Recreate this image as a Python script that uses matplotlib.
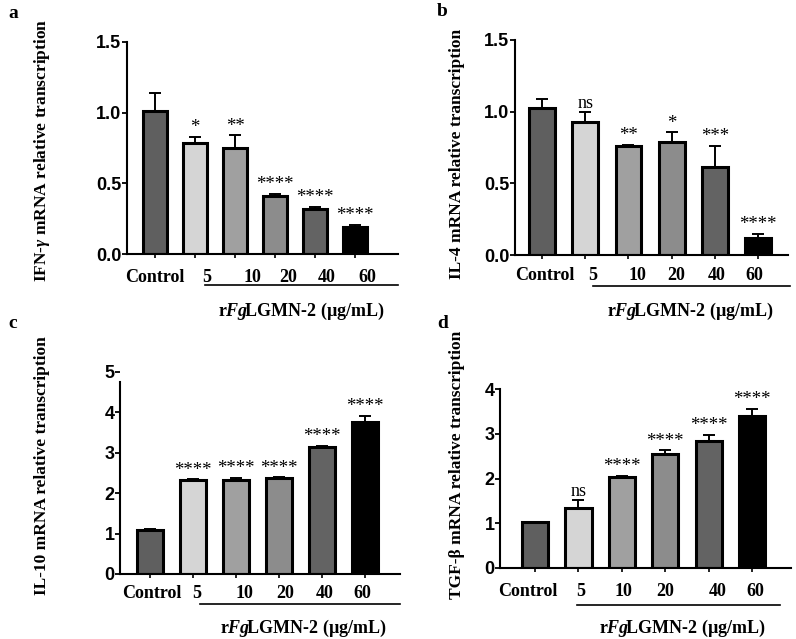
import matplotlib
matplotlib.use("Agg")
import matplotlib.pyplot as plt
from matplotlib.lines import Line2D

# --- data ---
groups = ["Control", "5", "10", "20", "40", "60"]
bar_colors = ["#5f5f5f", "#d5d5d5", "#a0a0a0", "#8c8c8c", "#636363", "#000000"]

ifng_mean = [1.01, 0.785, 0.75, 0.41, 0.32, 0.195]
ifng_err = [0.125, 0.045, 0.09, 0.015, 0.015, 0.012]
ifng_sig = ["", "*", "**", "****", "****", "****"]

il4_mean = [1.025, 0.925, 0.757, 0.786, 0.614, 0.118]
il4_err = [0.065, 0.07, 0.01, 0.07, 0.148, 0.03]
il4_sig = ["", "ns", "**", "*", "***", "****"]

il10_mean = [1.10, 2.33, 2.32, 2.37, 3.15, 3.77]
il10_err = [0.01, 0.01, 0.06, 0.02, 0.03, 0.15]
il10_sig = ["", "****", "****", "****", "****", "****"]

tgfb_mean = [1.02, 1.33, 2.03, 2.54, 2.83, 3.40]
tgfb_err = [0.01, 0.18, 0.03, 0.09, 0.14, 0.16]
tgfb_sig = ["", "ns", "****", "****", "****", "****"]

W, H = 796, 639
SERIF = ["Liberation Serif", "DejaVu Serif"]
SANS = ["Liberation Sans", "DejaVu Sans"]

plt.rcParams["mathtext.fontset"] = "custom"
plt.rcParams["mathtext.it"] = "Liberation Serif:bold:italic"
plt.rcParams["mathtext.rm"] = "Liberation Serif:bold"

fig = plt.figure(figsize=(W / 100, H / 100), dpi=100)


def px_axes(left, right, top, bottom):
    return fig.add_axes([left / W, 1 - bottom / H, (right - left) / W, (bottom - top) / H])


def fig_text(x, y, s, **kw):
    fig.text(x / W, 1 - y / H, s, **kw)


def hline(x0, x1, y, lw=1.2):
    fig.add_artist(Line2D([x0 / W, x1 / W], [1 - y / H, 1 - y / H],
                          transform=fig.transFigure, color="black", linewidth=lw))


panels = [
    # box (l, r, top, bottom), ylim, yticks, xlim, label x offsets, label drop px
    dict(box=(127, 398, 41.7, 254.3), ylim=(0, 1.5), yticks=[0.0, 0.5, 1.0, 1.5], yfmt="{:.1f}",
         xlim=(-0.7, 6.075), lab_x=[0, 1.3, 2.43, 3.33, 4.3, 5.3], drop=23,
         mean=ifng_mean, err=ifng_err, sig=ifng_sig,
         ylabel=r"IFN-$\gamma$ mRNA relative transcription", ylab_x=42, ylab_y=150,
         letter="a", letter_xy=(8, 14), uline=(205, 398, 285), sub_xy=(301, 311)),
    dict(box=(515, 788, 40, 255), ylim=(0, 1.5), yticks=[0.0, 0.5, 1.0, 1.5], yfmt="{:.1f}",
         xlim=(-0.625, 5.69), lab_x=[0.07, 1.18, 2.2, 3.1, 4.05, 4.9], drop=20,
         mean=il4_mean, err=il4_err, sig=il4_sig,
         ylabel="IL-4 mRNA relative transcription", ylab_x=457, ylab_y=154,
         letter="b", letter_xy=(437, 12), uline=(593, 790, 286), sub_xy=(690, 311)),
    dict(box=(120, 400, 372, 574), ylim=(0, 5), yticks=[0, 1, 2, 3, 4, 5], yfmt="{:d}",
         xlim=(-0.70, 5.81), lab_x=[0.05, 1.09, 2.2, 3.14, 4.07, 4.93], drop=20,
         mean=il10_mean, err=il10_err, sig=il10_sig,
         ylabel="IL-10 mRNA relative transcription", ylab_x=42, ylab_y=466,
         letter="c", letter_xy=(8, 324), uline=(200, 400, 604), sub_xy=(303, 628)),
    dict(box=(500, 791, 389, 568), ylim=(0, 4), yticks=[0, 1, 2, 3, 4], yfmt="{:d}",
         xlim=(-0.81, 5.9), lab_x=[-0.16, 1.04, 2.03, 2.99, 4.22, 5.07], drop=24,
         mean=tgfb_mean, err=tgfb_err, sig=tgfb_sig,
         ylabel="TGF-β mRNA relative transcription", ylab_x=457, ylab_y=465,
         letter="d", letter_xy=(437, 324), uline=(577, 780, 605), sub_xy=(682, 628)),
]

subtitle = r"r$\mathit{Fg}\!$LGMN-2 (µg/mL)"

for p in panels:
    ax = px_axes(*p["box"])
    x = list(range(len(groups)))
    ax.bar(x, p["mean"], width=0.6, color=bar_colors, edgecolor="black",
           linewidth=2.2, zorder=2)
    ax.errorbar(x, p["mean"], yerr=[[0] * len(x), p["err"]], fmt="none",
                ecolor="black", elinewidth=1.4, capsize=4.5, capthick=1.4, zorder=3)
    for xi, m, e, s in zip(x, p["mean"], p["err"], p["sig"]):
        if s:
            ax.annotate(s, xy=(xi, m + e), xytext=(0, 0.5), textcoords="offset points",
                        ha="center", va="bottom", fontsize=13.5 if s != "ns" else 13,
                        family=SERIF)

    ax.set_xlim(*p["xlim"])
    ax.set_ylim(*p["ylim"])
    ax.spines["top"].set_visible(False)
    ax.spines["right"].set_visible(False)
    ax.spines["left"].set_linewidth(1.5)
    ax.spines["bottom"].set_linewidth(1.5)
    if p["letter"] == "c":
        ax.spines["left"].set_bounds(0, 4.75)

    ax.set_yticks(p["yticks"])
    ax.set_yticklabels([p["yfmt"].format(v) for v in p["yticks"]],
                       family=SANS, fontweight="bold", fontsize=13)
    ax.tick_params(axis="y", length=3.5, width=1.3, pad=0.5)
    ax.set_xticks(x)
    ax.set_xticklabels([])
    ax.tick_params(axis="x", length=3, width=1.2)

    for lx, g in zip(p["lab_x"], groups):
        ax.annotate(g, xy=(lx, 0), xycoords=("data", "axes fraction"),
                    xytext=(0, -p["drop"] * 0.72), textcoords="offset points",
                    ha="center", va="center", fontsize=13, fontweight="bold",
                    family=SERIF, annotation_clip=False)

    fig_text(p["ylab_x"], p["ylab_y"], p["ylabel"], rotation=90, ha="center",
             va="center", fontsize=12.5, fontweight="bold", family=SERIF)
    fig_text(*p["letter_xy"], p["letter"], ha="left", va="center", fontsize=14,
             fontweight="bold", family=SERIF)
    hline(*p["uline"])
    fig_text(*p["sub_xy"], subtitle, ha="center", va="center", fontsize=13,
             fontweight="bold", family=SERIF)

fig.savefig("out.png", dpi=100)
